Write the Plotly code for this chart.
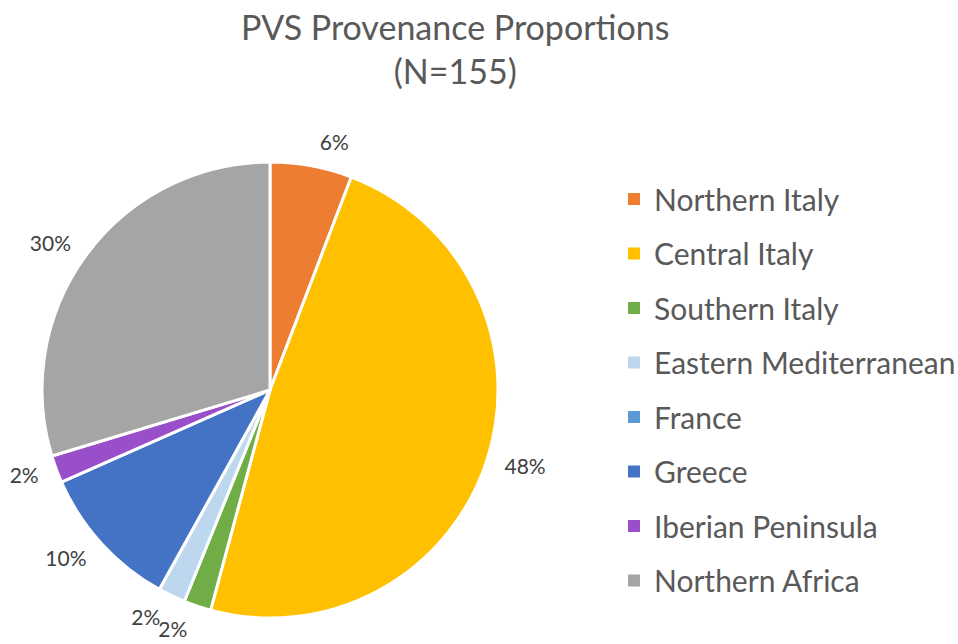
import plotly.graph_objects as go

categories = ["Northern Italy", "Central Italy", "Southern Italy", "Eastern Mediterranean",
              "France", "Greece", "Iberian Peninsula", "Northern Africa"]
counts = [9, 75, 3, 3, 0, 16, 3, 46]
colors = ["#ED7D31", "#FFC000", "#70AD47", "#BDD7EE", "#5B9BD5", "#4472C4", "#9A4FCA", "#A5A5A5"]

N = sum(counts)
labels_text = [f"{round(c / N * 100)}%" if c > 0 else "" for c in counts]

W, H = 958, 644
FONT = "Lato"
fig = go.Figure()
# coloured pie
fig.add_trace(go.Pie(
    labels=categories, values=counts, textinfo="none",
    sort=False, direction="clockwise", rotation=0,
    marker=dict(colors=colors, line=dict(color="white", width=3)),
    showlegend=False, hoverinfo="label+value+percent",
    domain=dict(x=[42 / W, 498 / W], y=[(H - 618) / H, (H - 162) / H]),
))
# transparent, slightly larger pies carrying only the outside data labels
# (split over two traces so plotly does not push neighbouring labels apart)
for parity in (0, 1):
    txt = [t if i % 2 == parity else "" for i, t in enumerate(labels_text)]
    fig.add_trace(go.Pie(
        labels=categories, values=counts, text=txt, textinfo="text",
        textposition="outside", sort=False, direction="clockwise", rotation=0,
        marker=dict(colors=["rgba(0,0,0,0)"] * len(counts), line=dict(width=0)),
        textfont=dict(family=FONT, size=21, color="#404040"),
        showlegend=False, hoverinfo="skip",
        domain=dict(x=[30 / W, 510 / W], y=[(H - 630) / H, (H - 150) / H]),
    ))
for i, (cat, col) in enumerate(zip(categories, colors)):
    fig.add_trace(go.Scatter(
        x=[None], y=[None], mode="markers", name=cat, legendgroup=f"g{i}",
        marker=dict(symbol="square", size=10, color=col), showlegend=True,
    ))

fig.add_annotation(
    text="PVS Provenance Proportions<br>(N=155)", xref="paper", yref="paper",
    x=455 / W, y=1 - 4 / H, xanchor="center", yanchor="top", showarrow=False,
    font=dict(family=FONT, size=34, color="#595959"),
)

fig.update_layout(
    width=W, height=H,
    margin=dict(l=0, r=0, t=0, b=0, autoexpand=False),
    paper_bgcolor="white", plot_bgcolor="white",
    xaxis=dict(visible=False), yaxis=dict(visible=False),
    legend=dict(x=614 / W, y=1 - 173 / H, xanchor="left", yanchor="top",
                font=dict(family=FONT, size=30, color="#595959"),
                tracegroupgap=12.5, itemsizing="constant", bgcolor="rgba(0,0,0,0)"),
)
fig.write_html("out.html", config={"displayModeBar": False},
               post_script="document.body.style.margin='0';")
